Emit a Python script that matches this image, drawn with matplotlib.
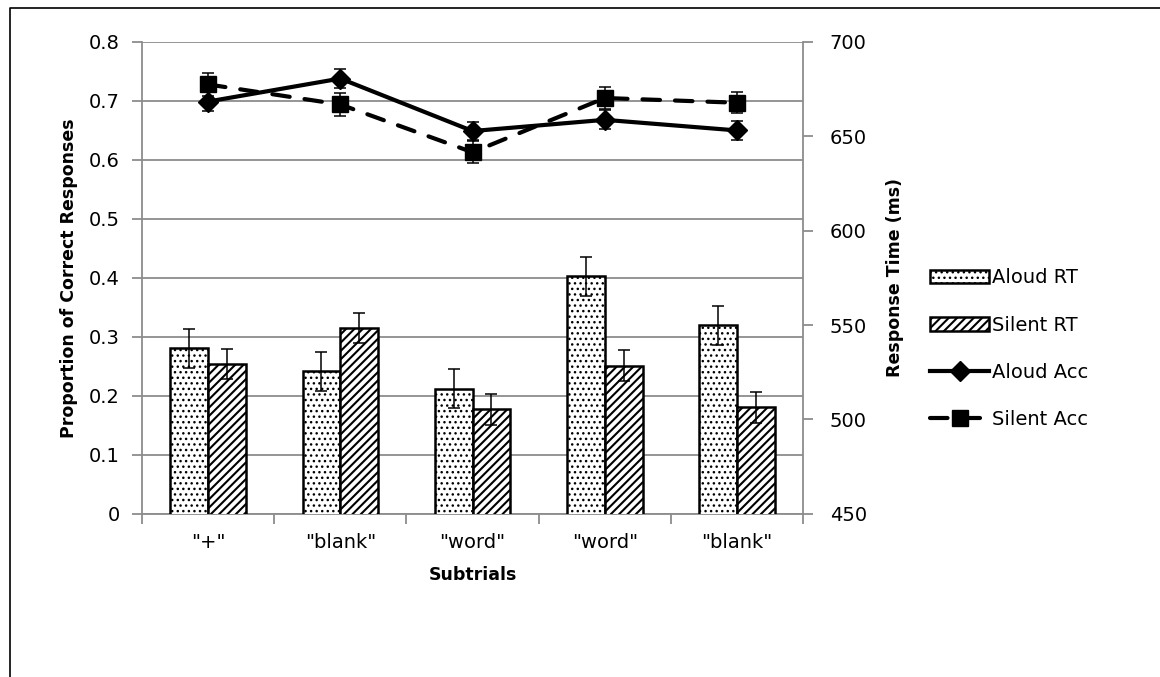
import numpy as np
import matplotlib.pyplot as plt
from matplotlib.lines import Line2D

plt.rcParams['font.family'] = ['DejaVu Sans']

subtrials = ['"+"', '"blank"', '"word"', '"word"', '"blank"']

# response times (ms), right axis
aloud_rt = [537.7, 525.6, 516.3, 575.8, 549.8]
aloud_rt_err = [10.3, 10.3, 10.3, 10.3, 10.3]
silent_rt = [529.5, 548.4, 505.3, 528.5, 506.4]
silent_rt_err = [8.1, 8.1, 8.1, 8.1, 8.1]

# proportion correct, left axis
aloud_acc = [0.699, 0.738, 0.649, 0.668, 0.650]
aloud_acc_err = [0.016, 0.016, 0.016, 0.016, 0.016]
silent_acc = [0.728, 0.694, 0.613, 0.705, 0.697]
silent_acc_err = [0.019, 0.019, 0.019, 0.018, 0.018]

grey = '#8c8c8c'
x = np.arange(1, len(subtrials) + 1)
w = 0.285

fig = plt.figure(figsize=(11.6, 6.77), dpi=100)
ax = fig.add_axes([0.1224, 0.241, 0.570, 0.697])

# proportion axis (left) - grid only
ax.set_ylim(0, 0.8)
ax.set_yticks(np.arange(0, 0.81, 0.1))
ax.set_yticklabels(['0'] + ['%.1f' % v for v in np.arange(0.1, 0.81, 0.1)])
ax.set_xlim(0.5, 5.5)
ax.grid(axis='y', color=grey, lw=1.3)
ax.set_axisbelow(True)
ax.set_xticks(x)
ax.set_xticklabels(subtrials, fontsize=14)
ax.set_xticks(np.arange(0.5, 5.6, 1), minor=True)
ax.tick_params(axis='x', which='major', length=0, pad=14)
ax.tick_params(axis='x', which='minor', length=7, color=grey, width=1.3)
ax.tick_params(axis='y', length=7, color=grey, width=1.3, labelsize=14, pad=9)
for s in ['top', 'right']:
    ax.spines[s].set_visible(False)
for s in ['left', 'bottom']:
    ax.spines[s].set_color(grey)
    ax.spines[s].set_linewidth(1.3)
ax.set_ylabel('Proportion of Correct Responses', fontsize=12.5, fontweight='bold', labelpad=8)
ax.set_xlabel('Subtrials', fontsize=12.5, fontweight='bold', labelpad=10)

# RT axis (right) - bars
ax2 = ax.twinx()
ax2.set_ylim(450, 700)
ax2.set_yticks(np.arange(450, 701, 50))
ax2.tick_params(axis='y', length=7, color=grey, width=1.3, labelsize=14, pad=12)
for s in ['top', 'left', 'bottom']:
    ax2.spines[s].set_visible(False)
ax2.spines['right'].set_color(grey)
ax2.spines['right'].set_linewidth(1.3)
ax2.set_ylabel('Response Time (ms)', fontsize=12.5, fontweight='bold', labelpad=14)

with plt.rc_context({'hatch.linewidth': 1.0}):
    b1 = ax2.bar(x - w / 2, aloud_rt, w, color='white', edgecolor='black',
                 linewidth=1.8, hatch='...', label='Aloud RT')
with plt.rc_context({'hatch.linewidth': 1.5}):
    b2 = ax2.bar(x + w / 2, silent_rt, w, color='white', edgecolor='black',
                 linewidth=1.8, hatch='////', label='Silent RT')
ax2.errorbar(x - w / 2, aloud_rt, yerr=aloud_rt_err, fmt='none', ecolor='black',
             elinewidth=1.1, capsize=4, capthick=1.1)
ax2.errorbar(x + w / 2, silent_rt, yerr=silent_rt_err, fmt='none', ecolor='black',
             elinewidth=1.1, capsize=4, capthick=1.1)

# accuracy lines on top
ax3 = ax.twinx()
ax3.set_ylim(0, 0.8)
ax3.axis('off')
l1, = ax3.plot(x, aloud_acc, color='black', lw=3, marker='D', markersize=10,
               label='Aloud Acc')
ax3.errorbar(x, aloud_acc, yerr=aloud_acc_err, fmt='none', ecolor='black',
             elinewidth=1.1, capsize=4.5, capthick=1.1)
l2, = ax3.plot(x, silent_acc, color='black', lw=3, ls=(0, (4.2, 3.6)),
               dash_capstyle='round', marker='s', markersize=11, label='Silent Acc')
ax3.errorbar(x, silent_acc, yerr=silent_acc_err, fmt='none', ecolor='black',
             elinewidth=1.1, capsize=4.5, capthick=1.1)

leg = fig.legend([b1, b2, l1, l2], ['Aloud RT', 'Silent RT', 'Aloud Acc', 'Silent Acc'],
                 loc='center left', bbox_to_anchor=(0.787, 0.485), frameon=False,
                 fontsize=14, handlelength=3.0, labelspacing=1.45, handletextpad=0.15)
for h, hlw in zip(leg.legend_handles[:2], [1.0, 1.5]):
    if hasattr(h, 'set_hatch_linewidth'):
        h.set_hatch_linewidth(hlw)
    else:
        h._hatch_linewidth = hlw

# outer frame (left and top edges)
fig.add_artist(Line2D([0.0086, 0.0086, 1.0], [0.0, 0.988, 0.988],
                      transform=fig.transFigure, color='black', lw=1.2))

fig.savefig('out.png', dpi=100)
